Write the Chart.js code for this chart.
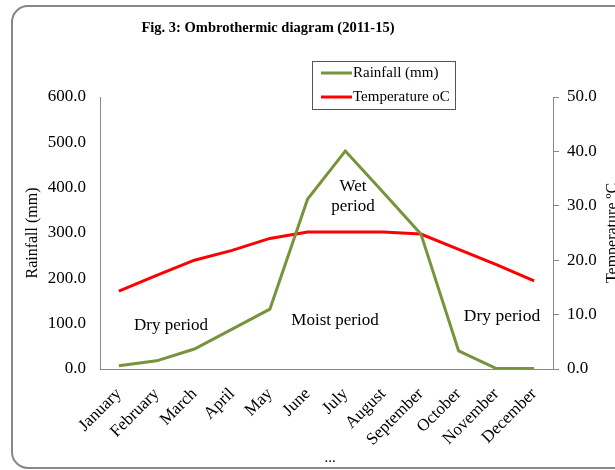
<!DOCTYPE html>
<html><head><meta charset="utf-8">
<script src="https://cdn.jsdelivr.net/npm/chart.js@4/dist/chart.umd.min.js"></script>
<style>html,body{margin:0;padding:0;background:#fff;overflow:hidden}#wrap{width:615px;height:470px;position:relative}</style>
</head><body><div id="wrap"><canvas id="c" width="615" height="470"></canvas></div>
<script>
const months = ["January","February","March","April","May","June","July","August","September","October","November","December"];
const rainfall = [7, 18, 44, 88, 132, 375, 481, 390, 298, 40, 1, 1];
const temperature = [14.3, 17.2, 20.0, 21.8, 24.0, 25.2, 25.2, 25.2, 24.8, 22.0, 19.2, 16.2];
const rainTicks = [0, 100, 200, 300, 400, 500, 600];
const tempTicks = [0, 10, 20, 30, 40, 50];
const titleText = "Fig. 3: Ombrothermic diagram (2011-15)";
const rainLabel = "Rainfall (mm)";
const tempLabel = "Temperature oC";
const tempAxisTitle = "Temperature \u00BAC";
const notes = [
  {text: "Dry period", x: 171, y: 326, size: 17},
  {text: "Moist period", x: 335, y: 321, size: 17},
  {text: "Wet", x: 353, y: 187, size: 17},
  {text: "period", x: 353, y: 207, size: 17},
  {text: "Dry period", x: 502, y: 316, size: 17.5},
  {text: "...", x: 330, y: 458, size: 15}
];
const SERIF = "'Liberation Serif', 'Times New Roman', serif";

const deco = {
  id: 'deco',
  beforeDraw(chart) {
    const ctx = chart.ctx;
    ctx.save();
    ctx.fillStyle = '#fff';
    ctx.fillRect(0, 0, chart.width, chart.height);
    ctx.strokeStyle = '#878787';
    ctx.lineWidth = 2;
    ctx.beginPath();
    if (ctx.roundRect) ctx.roundRect(12, 6, 640, 462, 16); else ctx.rect(12, 6, 640, 462);
    ctx.stroke();
    ctx.restore();
  },
  afterDraw(chart) {
    const ctx = chart.ctx;
    ctx.save();
    ctx.fillStyle = '#000';
    ctx.textAlign = 'center';
    ctx.textBaseline = 'middle';
    ctx.font = "bold 14.5px " + SERIF;
    ctx.fillText(titleText, 268, 28);
    notes.forEach(n => {
      ctx.font = n.size + "px " + SERIF;
      ctx.fillText(n.text, n.x, n.y);
    });
    ctx.save();
    ctx.translate(613, 233);
    ctx.rotate(-Math.PI / 2);
    ctx.font = "16px " + SERIF;
    ctx.fillText(tempAxisTitle, 0, 0);
    ctx.restore();
    ctx.fillStyle = '#fff';
    ctx.fillRect(312, 61, 143, 48);
    ctx.strokeStyle = '#555';
    ctx.lineWidth = 1;
    ctx.strokeRect(312.5, 61.5, 143, 48);
    ctx.textAlign = 'left';
    ctx.font = "15px " + SERIF;
    chart.data.datasets.forEach((ds, i) => {
      const y = 73 + i * 24;
      ctx.strokeStyle = ds.borderColor;
      ctx.lineWidth = 3;
      ctx.beginPath();
      ctx.moveTo(321, y);
      ctx.lineTo(352, y);
      ctx.stroke();
      ctx.fillStyle = '#000';
      ctx.fillText(ds.label, 353, y);
    });
    ctx.restore();
  }
};

new Chart(document.getElementById('c'), {
  type: 'line',
  data: {
    labels: months,
    datasets: [
      {label: rainLabel, data: rainfall, yAxisID: 'y', borderColor: '#77933C', backgroundColor: '#77933C', borderWidth: 3, pointRadius: 0, tension: 0, fill: false},
      {label: tempLabel, data: temperature, yAxisID: 'y1', borderColor: '#FF0000', backgroundColor: '#FF0000', borderWidth: 3, pointRadius: 0, tension: 0, fill: false}
    ]
  },
  options: {
    responsive: false,
    animation: false,
    devicePixelRatio: 1,
    layout: {padding: {left: 12, right: 0, top: 97, bottom: 0}},
    plugins: {legend: {display: false}, title: {display: false}, tooltip: {enabled: false}},
    scales: {
      x: {
        offset: true,
        grid: {display: false, drawTicks: false},
        border: {display: true, color: '#888', width: 1},
        ticks: {color: '#000', font: {family: SERIF, size: 17}, maxRotation: 45, minRotation: 45, padding: 15, autoSkip: false},
        afterFit(s) { s.height = 101; }
      },
      y: {
        position: 'left',
        min: 0, max: 600,
        afterBuildTicks(s) { s.ticks = rainTicks.map(v => ({value: v})); },
        grid: {display: false, drawTicks: false},
        border: {display: true, color: '#888', width: 1},
        ticks: {color: '#000', font: {family: SERIF, size: 17}, padding: 14, callback: v => Number(v).toFixed(1)},
        title: {display: true, text: rainLabel, color: '#000', font: {family: SERIF, size: 16}, padding: {top: 11, bottom: 0}},
        afterFit(s) { s.width = 88; }
      },
      y1: {
        position: 'right',
        min: 0, max: 50,
        afterBuildTicks(s) { s.ticks = tempTicks.map(v => ({value: v})); },
        grid: {display: true, drawOnChartArea: false, drawTicks: true, tickLength: 6, color: '#888'},
        border: {display: true, color: '#888', width: 1},
        ticks: {color: '#000', font: {family: SERIF, size: 17}, padding: 8, callback: v => Number(v).toFixed(1)},
        afterFit(s) { s.width = 62; }
      }
    }
  },
  plugins: [deco]
});
</script></body></html>
